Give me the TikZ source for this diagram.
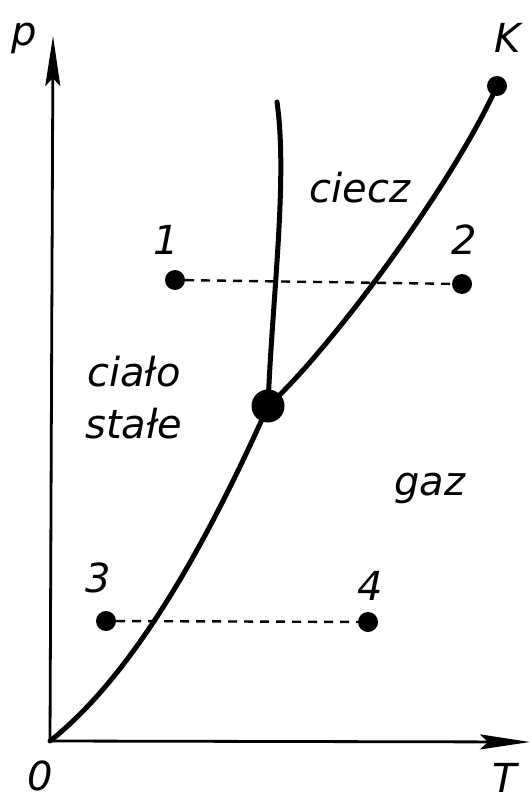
\documentclass[tikz,border=0pt]{standalone}
\usepackage{fontspec}
\setmainfont{DejaVu Sans}
\usetikzlibrary{arrows.meta}
\tikzset{
  axis/.style={line width=2.8pt, -{Stealth[length=50pt,width=15pt,inset=8pt]}},
  curve/.style={line width=5pt, line cap=round},
  dot/.style={circle, fill=black, inner sep=0pt, minimum size=20pt},
  bigdot/.style={circle, fill=black, inner sep=0pt, minimum size=33pt},
  lbl/.style={font=\fontsize{40}{40}\selectfont\itshape, inner sep=0pt},
  region/.style={font=\fontsize{40}{44}\selectfont\itshape, inner sep=0pt, align=left},
  dashline/.style={line width=2.4pt, dash pattern=on 9pt off 7pt}
}
\begin{document}
\begin{tikzpicture}[x=1pt,y=-1pt]
\useasboundingbox (0,0) rectangle (531,802);
% axes
\coordinate (O) at (50,741);
\coordinate (ptop) at (53,36);
\coordinate (tright) at (530,742);
\draw[axis] (O) -- (ptop);
\draw[axis] (O) -- (tright);
\node[lbl] (plab) at (24,38) {p};
\node[lbl] (tlab) at (505,778) {T};
\node[lbl] (olab) at (40,776) {0};
\node[lbl] (klab) at (508,38) {K};
% special points
\node[bigdot] (tp) at (268,406) {};
\node[dot] (K) at (497,86) {};
\coordinate (mtop) at (277,102);
% curves
\draw[curve] (O) .. controls (140,670) and (215,525) .. (tp.center);
\draw[curve] (tp.center) .. controls (272,300) and (288,180) .. (mtop);
\draw[curve] (tp.center) .. controls (325,355) and (450,190) .. (K.center);
% states
\node[dot] (p1) at (175,280) {};
\node[dot] (p2) at (462,284) {};
\node[dot] (p3) at (106,621) {};
\node[dot] (p4) at (368,622) {};
\draw[dashline] (p1) -- (p2);
\draw[dashline] (p3) -- (p4);
\node[lbl] (l1) at (166,240) {1};
\node[lbl] (l2) at (464,240) {2};
\node[lbl] (l3) at (98,578) {3};
\node[lbl] (l4) at (370,586) {4};
% region labels
\node[region] (ciecz) at (360,188) {ciecz};
\node[region] (cialo) at (134,372) {ciało};
\node[region] (stale) at (134,424) {stałe};
\node[region] (gaz) at (430,488) {gaz};
\end{tikzpicture}
\end{document}
